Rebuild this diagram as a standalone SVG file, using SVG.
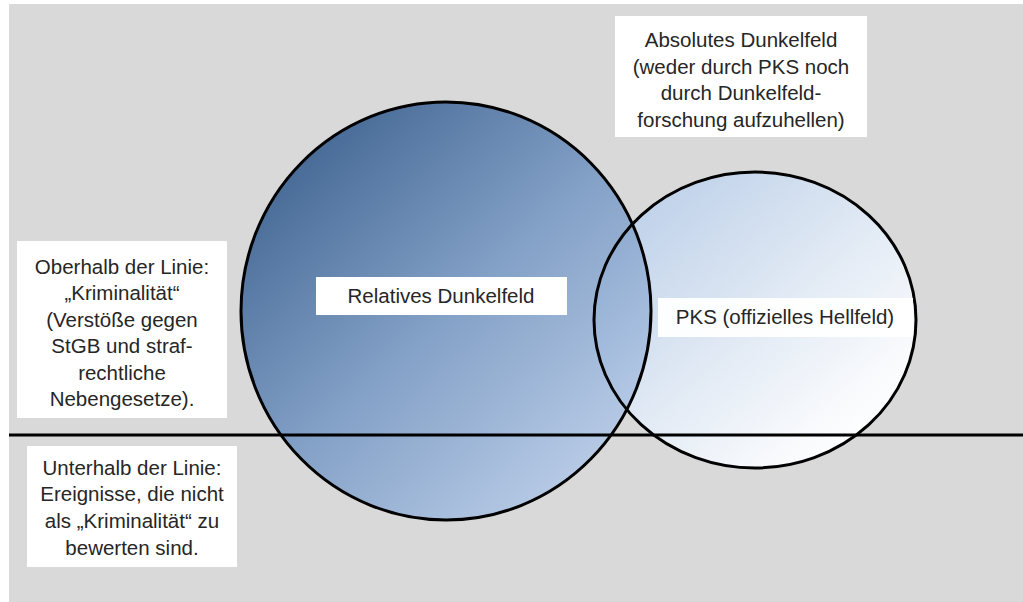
<svg xmlns="http://www.w3.org/2000/svg" width="1023" height="602" viewBox="0 0 1023 602">
<defs>
<linearGradient id="gBig" x1="0.12" y1="0.1" x2="0.85" y2="0.9">
<stop offset="0" stop-color="#365d8d"/>
<stop offset="0.5" stop-color="#7a9ac4"/>
<stop offset="1" stop-color="#b6cbe8"/>
</linearGradient>
<linearGradient id="gSmall" x1="0.1" y1="0.1" x2="0.85" y2="0.9">
<stop offset="0" stop-color="#bdd0e9"/>
<stop offset="0.55" stop-color="#e3ebf5"/>
<stop offset="0.85" stop-color="#f7f9fc"/>
<stop offset="1" stop-color="#ffffff"/>
</linearGradient>
<style>
.t{font-family:"Liberation Sans",Arial,sans-serif;font-size:20.5px;fill:#262626;text-anchor:middle}
.box{fill:#ffffff}
.ol{fill:none;stroke:#000;stroke-width:3}
</style>
</defs>
<rect x="0" y="0" width="1023" height="602" fill="#ffffff"/>
<rect x="9" y="4" width="1014" height="598" fill="#d9d9d9"/>
<g id="pks-circle">
<ellipse cx="755" cy="320" rx="161" ry="148" fill="url(#gSmall)"/>
</g>
<g id="relatives-circle">
<ellipse cx="446" cy="311" rx="205" ry="209" fill="url(#gBig)" opacity="0.92"/>
</g>
<g id="outlines">
<ellipse class="ol" cx="755" cy="320" rx="161" ry="148"/>
<ellipse class="ol" cx="446" cy="311" rx="205" ry="209"/>
</g>
<g id="connectors">
<line x1="9" y1="435" x2="1023" y2="435" stroke="#000" stroke-width="3"/>
</g>
<g id="absolutes">
<rect class="box" x="615" y="16" width="252" height="121"/>
<text class="t" x="741" y="47">Absolutes Dunkelfeld</text>
<text class="t" x="741" y="74">(weder durch PKS noch</text>
<text class="t" x="741" y="100">durch Dunkelfeld-</text>
<text class="t" x="741" y="127">forschung aufzuhellen)</text>
</g>
<g id="oberhalb">
<rect class="box" x="17" y="241" width="210" height="177"/>
<text class="t" x="122" y="274">Oberhalb der Linie:</text>
<text class="t" x="122" y="300">„Kriminalität“</text>
<text class="t" x="122" y="327">(Verstöße gegen</text>
<text class="t" x="122" y="353">StGB und straf-</text>
<text class="t" x="122" y="380">rechtliche</text>
<text class="t" x="122" y="406">Nebengesetze).</text>
</g>
<g id="unterhalb">
<rect class="box" x="27" y="446" width="210" height="121"/>
<text class="t" x="132" y="475">Unterhalb der Linie:</text>
<text class="t" x="132" y="501">Ereignisse, die nicht</text>
<text class="t" x="132" y="528">als „Kriminalität“ zu</text>
<text class="t" x="132" y="555">bewerten sind.</text>
</g>
<g id="relatives-label">
<rect class="box" x="316" y="277" width="251" height="38"/>
<text class="t" x="441" y="303">Relatives Dunkelfeld</text>
</g>
<g id="pks-label">
<rect class="box" x="658" y="298" width="255" height="39" opacity="0.95"/>
<text class="t" x="785" y="324">PKS (offizielles Hellfeld)</text>
</g>
</svg>
